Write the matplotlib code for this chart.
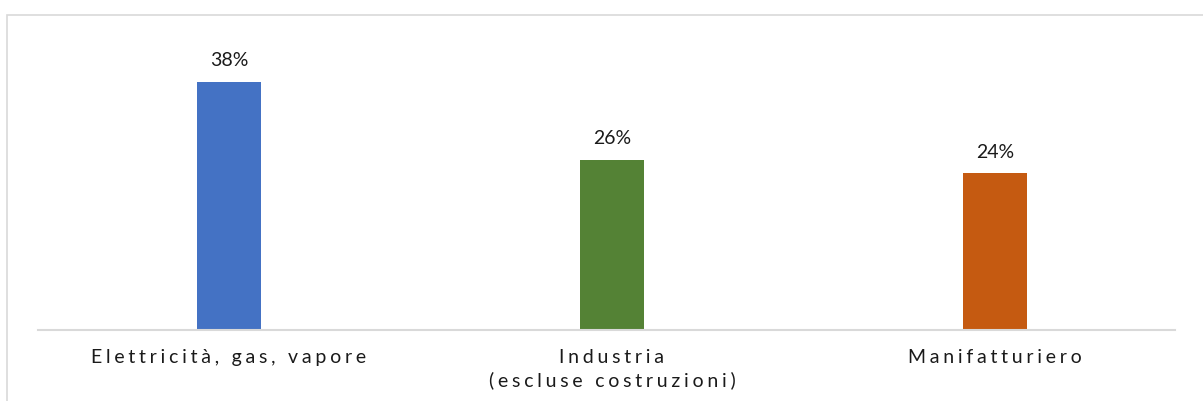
import matplotlib.pyplot as plt
from matplotlib.patches import Rectangle

categories = ["Elettricità, gas, vapore", "Industria\n(escluse costruzioni)", "Manifatturiero"]
values = [38, 26, 24]
colors = ["#4472C4", "#548235", "#C55A11"]

plt.rcParams['font.family'] = ['Lato', 'DejaVu Sans']


def spaced(text):
    # widen the letter spacing with thin + hair spaces
    return "\n".join("\u2009\u200a".join(line) for line in text.split("\n"))


fig = plt.figure(figsize=(12.03, 4.01), dpi=100)
fig.patches.append(Rectangle((7 / 1203, -0.1), 1.1, 1.1 - 15 / 401,
                             transform=fig.transFigure, fill=False,
                             edgecolor="#D9D9D9", linewidth=1.2))

ax = fig.add_axes([38 / 1203, 1 - 330 / 401, 1137 / 1203, 315 / 401])
x = range(len(categories))
bars = ax.bar(x, values, width=0.167, color=colors)
for b, v in zip(bars, values):
    ax.text(b.get_x() + b.get_width() / 2, v + 2.45, f"{v}%",
            ha="center", va="baseline", fontsize=14, color="#1a1a1a")

ax.set_xlim(-0.4987, 2.47)
ax.set_ylim(0, 48.3)
ax.set_yticks([])
ax.set_xticks(list(x))
ax.set_xticklabels([spaced(c) for c in categories], fontsize=14,
                   color="#1a1a1a", linespacing=1.3)
ax.tick_params(axis="x", length=0, pad=14)
for s in ["top", "right", "left"]:
    ax.spines[s].set_visible(False)
ax.spines["bottom"].set_color("#D9D9D9")
ax.spines["bottom"].set_linewidth(1.5)

fig.savefig("out.png", dpi=100)
